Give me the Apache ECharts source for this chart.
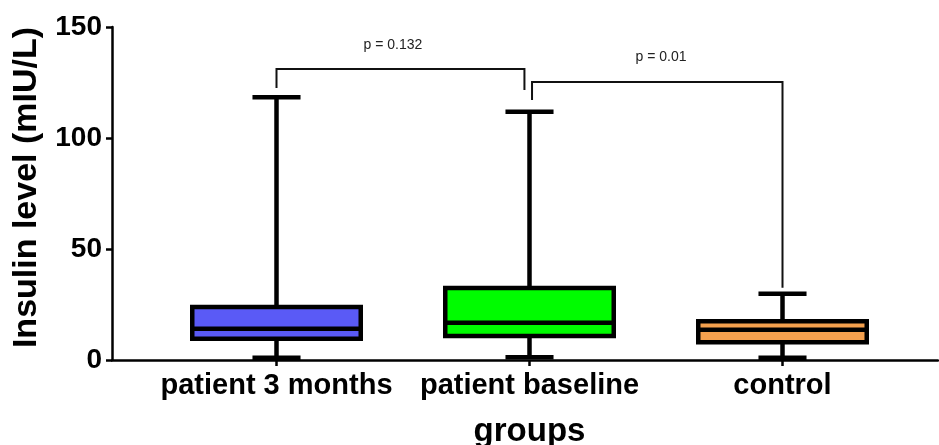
<!DOCTYPE html>
<html>
<head>
<meta charset="utf-8">
<title>Insulin level by group</title>
<script src="https://cdn.jsdelivr.net/npm/echarts@6/dist/echarts.min.js"></script>
<style>
  html, body { margin: 0; padding: 0; background: #fff; }
  #chart { width: 939px; height: 445px; }
</style>
</head>
<body>
<div id="chart"></div>
<script>
// Groups on the x axis
const categories = ['patient 3 months', 'patient baseline', 'control'];

// Five-number summaries per group: min, Q1, median, Q3, max (mIU/L)
const minValues    = [1.0, 1.2, 1.0];
const q1Values     = [9.6, 10.8, 8.0];
const medianValues = [14.1, 16.8, 13.6];
const q3Values     = [23.9, 32.4, 17.5];
const maxValues    = [118.3, 111.8, 29.8];

const boxColors = ['#5a5af6', '#00fc00', '#f4a04e'];

// Y axis ticks
const yTicks = [0, 50, 100, 150];

// Significance brackets: start/end group position, bracket top,
// left/right leg ends (all in data units), label, label position
const bracketFrom   = [0, 1.01];
const bracketTo     = [0.98, 2];
const bracketTop    = [131.1, 125.2];
const bracketLeftEnd  = [122.5, 117.1];
const bracketRightEnd = [121.6, 32.5];
const bracketLabels = ['p = 0.132', 'p = 0.01'];
const labelPos      = [0.46, 1.52];
const labelValue    = [141.9, 136.5];

const FONT = '"Liberation Sans", Arial, Helvetica, sans-serif';

const boxData = categories.map((c, i) => [i, minValues[i], q1Values[i], medianValues[i], q3Values[i], maxValues[i]]);
const bracketData = bracketLabels.map((t, i) => [bracketFrom[i], bracketTop[i], bracketTo[i], bracketLeftEnd[i], bracketRightEnd[i], labelPos[i], labelValue[i]]);

// x pixel of a (possibly fractional) group position via the category scale
function xAt(api, pos) {
  const idx = Math.round(pos);
  return api.coord([idx, 0])[0] + (pos - idx) * api.size([1, 0])[0];
}

function renderBox(params, api) {
  const i = api.value(0);
  const x = api.coord([i, 0])[0];
  const band = api.size([1, 0])[0];
  const half = band * 0.333;
  const capHalf = band * 0.095;
  const y = k => api.coord([i, api.value(k)])[1];
  const yMin = y(1), yQ1 = y(2), yMed = y(3), yQ3 = y(4), yMax = y(5);
  const lw = 4.5;
  const line = (x1, y1, x2, y2) => ({
    type: 'line',
    shape: { x1, y1, x2, y2 },
    style: { stroke: '#000', lineWidth: lw }
  });
  return {
    type: 'group',
    children: [
      line(x, yQ3, x, yMax),
      line(x - capHalf, yMax, x + capHalf, yMax),
      line(x, yQ1, x, yMin),
      line(x - capHalf, yMin, x + capHalf, yMin),
      {
        type: 'rect',
        shape: { x: x - half, y: yQ3, width: half * 2, height: yQ1 - yQ3 },
        style: { fill: boxColors[i], stroke: '#000', lineWidth: lw }
      },
      line(x - half, yMed, x + half, yMed)
    ]
  };
}

function renderBracket(params, api) {
  const x1 = xAt(api, api.value(0));
  const x2 = xAt(api, api.value(2));
  const yTop = api.coord([0, api.value(1)])[1];
  const yL = api.coord([0, api.value(3)])[1];
  const yR = api.coord([0, api.value(4)])[1];
  const tx = xAt(api, api.value(5));
  const ty = api.coord([0, api.value(6)])[1];
  return {
    type: 'group',
    children: [
      {
        type: 'polyline',
        shape: { points: [[x1, yL], [x1, yTop], [x2, yTop], [x2, yR]] },
        style: { stroke: '#111', lineWidth: 2, fill: null }
      },
      {
        type: 'text',
        style: {
          text: bracketLabels[params.dataIndex],
          x: tx, y: ty,
          align: 'center', verticalAlign: 'middle',
          fontSize: 14, fontFamily: FONT, fill: '#222'
        }
      }
    ]
  };
}

const chart = echarts.init(document.getElementById('chart'), null, { renderer: 'canvas' });

const gridTop = 27, gridBottom = 85;

chart.setOption({
  backgroundColor: '#fff',
  animation: false,
  grid: [
    // frame grid: carries the axis lines and the value axis
    { left: 112, right: 1, top: gridTop, bottom: gridBottom, outerBoundsMode: 'none', containLabel: false },
    // plotting grid: groups are laid out here
    { left: 150, width: 759, top: gridTop, bottom: gridBottom, outerBoundsMode: 'none', containLabel: false }
  ],
  xAxis: [
    {
      gridIndex: 0, type: 'category', data: categories,
      axisLine: { show: true, lineStyle: { color: '#000', width: 2.5 } },
      axisTick: { show: false }, axisLabel: { show: false }, splitLine: { show: false }
    },
    {
      gridIndex: 1, type: 'category', data: categories,
      name: 'groups', nameLocation: 'middle', nameGap: 55,
      nameTextStyle: { fontSize: 33, fontWeight: 'bold', fontFamily: FONT, color: '#000' },
      axisLine: { show: false },
      axisTick: { show: true, alignWithLabel: true, length: 6, lineStyle: { color: '#000', width: 2.5 } },
      axisLabel: { show: true, margin: 11, fontSize: 29, fontWeight: 'bold', fontFamily: FONT, color: '#000', interval: 0 },
      splitLine: { show: false }
    }
  ],
  yAxis: [
    {
      gridIndex: 0, type: 'value', min: yTicks[0], max: yTicks[yTicks.length - 1], interval: yTicks[1] - yTicks[0],
      name: 'Insulin level (mIU/L)', nameLocation: 'middle', nameGap: 68, nameRotate: 90,
      nameTextStyle: { fontSize: 34, fontWeight: 'bold', fontFamily: FONT, color: '#000', padding: [0, 0, 0, 12] },
      axisLine: { show: true, lineStyle: { color: '#000', width: 2.5 } },
      axisTick: { show: true, length: 6, lineStyle: { color: '#000', width: 2.5 } },
      axisLabel: { margin: 10, fontSize: 28, fontWeight: 'bold', fontFamily: FONT, color: '#000' },
      splitLine: { show: false }
    },
    {
      gridIndex: 1, type: 'value', min: yTicks[0], max: yTicks[yTicks.length - 1], interval: yTicks[1] - yTicks[0],
      show: false, splitLine: { show: false }
    }
  ],
  series: [
    {
      type: 'custom', name: 'Insulin',
      xAxisIndex: 1, yAxisIndex: 1,
      renderItem: renderBox,
      encode: { x: 0, y: [1, 2, 3, 4, 5] },
      data: boxData,
      clip: false, silent: true
    },
    {
      type: 'custom', name: 'Significance',
      xAxisIndex: 1, yAxisIndex: 1,
      renderItem: renderBracket,
      encode: { x: 0, y: [1, 3, 4, 6] },
      data: bracketData,
      clip: false, silent: true
    }
  ]
});
</script>
</body>
</html>
